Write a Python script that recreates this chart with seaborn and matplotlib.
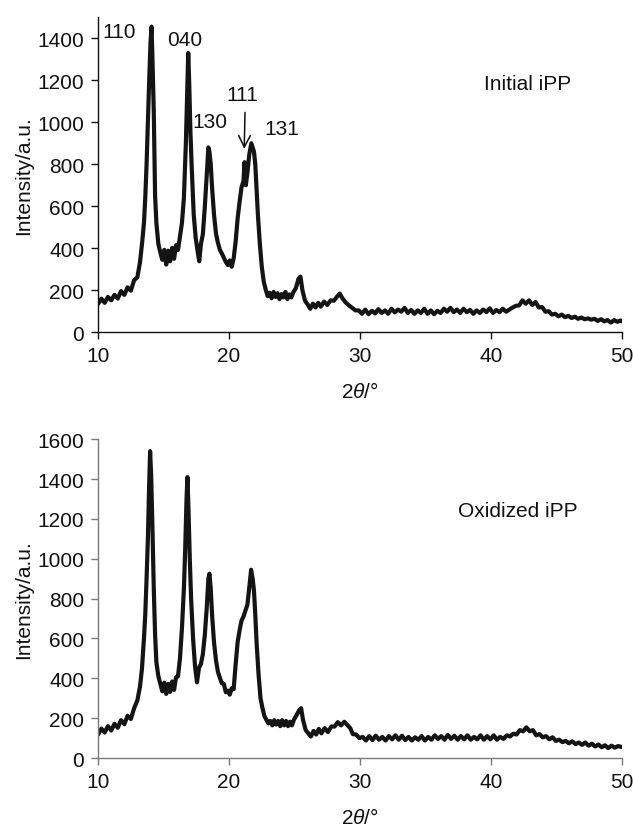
import matplotlib
matplotlib.use("Agg")
import matplotlib.pyplot as plt
import seaborn as sns
import pandas as pd

# ---------------- data ----------------
x_init = [10.0, 10.25, 10.5, 10.75, 11.0, 11.25, 11.5, 11.75, 12.0, 12.25, 12.5, 12.75, 13.0, 13.2, 13.35, 13.5,
          13.6, 13.7, 13.8, 13.9, 14.0, 14.08, 14.15, 14.25, 14.35, 14.45, 14.6, 14.75, 14.9, 15.05, 15.2, 15.35,
          15.5, 15.65, 15.8, 15.95, 16.1, 16.25, 16.4, 16.55, 16.7, 16.8, 16.88, 16.95, 17.05, 17.15, 17.3, 17.45,
          17.6, 17.72, 17.85, 18.0, 18.15, 18.3, 18.42, 18.5, 18.6, 18.7, 18.85, 19.0, 19.15, 19.3, 19.45, 19.6,
          19.75, 19.9, 20.05, 20.2, 20.35, 20.5, 20.65, 20.8, 20.95, 21.1, 21.18, 21.28, 21.4, 21.55, 21.7, 21.8,
          21.9, 22.0, 22.1, 22.2, 22.35, 22.5, 22.65, 22.8, 22.95, 23.1, 23.25, 23.4, 23.55, 23.7, 23.85, 24.0,
          24.15, 24.3, 24.45, 24.6, 24.75, 24.9, 25.1, 25.3, 25.45, 25.6, 25.8, 26.0, 26.2, 26.4, 26.6, 26.8,
          27.0, 27.25, 27.5, 27.75, 28.0, 28.25, 28.45, 28.65, 28.9, 29.15, 29.4, 29.65, 29.9, 30.15, 30.4, 30.65,
          30.9, 31.15, 31.4, 31.65, 31.9, 32.15, 32.4, 32.65, 32.9, 33.15, 33.4, 33.65, 33.9, 34.15, 34.4, 34.65,
          34.9, 35.15, 35.4, 35.65, 35.9, 36.15, 36.4, 36.65, 36.9, 37.15, 37.4, 37.65, 37.9, 38.15, 38.4, 38.65,
          38.9, 39.15, 39.4, 39.65, 39.9, 40.15, 40.4, 40.65, 40.9, 41.15, 41.4, 41.65, 41.9, 42.15, 42.4, 42.65,
          42.9, 43.15, 43.4, 43.65, 43.9, 44.15, 44.4, 44.65, 44.9, 45.15, 45.4, 45.65, 45.9, 46.15, 46.4, 46.65,
          46.9, 47.15, 47.4, 47.65, 47.9, 48.15, 48.4, 48.65, 48.9, 49.15, 49.4, 49.65, 49.9, 50.0]
y_init = [135, 160, 140, 168, 152, 178, 160, 196, 178, 214, 198, 248, 262, 335, 420, 520,
          640, 800, 1000, 1200, 1380, 1455, 1300, 1050, 650, 520, 420, 380, 345, 392, 322, 388,
          338, 402, 350, 415, 392, 455, 520, 640, 900, 1150, 1330, 1200, 950, 780, 560, 450,
          385, 338, 420, 468, 600, 760, 880, 860, 800, 690, 560, 470, 425, 392, 375, 355,
          335, 320, 342, 312, 352, 430, 540, 620, 690, 720, 810, 700, 760, 850, 900, 880,
          860, 800, 680, 560, 420, 310, 240, 202, 172, 188, 162, 192, 168, 186, 158, 182,
          166, 192, 158, 180, 166, 190, 210, 255, 265, 200, 150, 132, 112, 136, 118, 140,
          122, 146, 130, 152, 150, 170, 184, 162, 142, 128, 116, 104, 104, 88, 108, 86,
          102, 90, 110, 92, 104, 88, 112, 95, 108, 98, 116, 92, 106, 88, 104, 92,
          112, 88, 104, 86, 102, 92, 112, 98, 116, 96, 108, 92, 112, 96, 106, 88,
          104, 92, 108, 96, 114, 92, 106, 96, 112, 98, 108, 118, 126, 128, 152, 136,
          152, 130, 144, 118, 120, 98, 100, 84, 88, 76, 84, 72, 78, 68, 74, 64,
          70, 62, 66, 60, 64, 54, 62, 52, 58, 46, 58, 50, 56, 52]

x_oxid = [10.0, 10.25, 10.5, 10.75, 11.0, 11.25, 11.5, 11.75, 12.0, 12.25, 12.5, 12.75, 13.0, 13.2, 13.35, 13.5,
          13.6, 13.7, 13.8, 13.9, 13.97, 14.05, 14.15, 14.25, 14.35, 14.45, 14.6, 14.75, 14.9, 15.05, 15.2, 15.35,
          15.5, 15.65, 15.8, 15.95, 16.1, 16.25, 16.4, 16.55, 16.65, 16.75, 16.82, 16.9, 17.0, 17.1, 17.25, 17.4,
          17.55, 17.7, 17.85, 18.0, 18.15, 18.3, 18.42, 18.5, 18.6, 18.7, 18.85, 19.0, 19.15, 19.3, 19.45, 19.6,
          19.75, 19.9, 20.05, 20.2, 20.35, 20.5, 20.65, 20.8, 20.95, 21.1, 21.25, 21.4, 21.55, 21.68, 21.8, 21.9,
          22.0, 22.1, 22.25, 22.4, 22.55, 22.7, 22.85, 23.0, 23.15, 23.3, 23.45, 23.6, 23.75, 23.9, 24.05, 24.2,
          24.35, 24.5, 24.65, 24.8, 24.95, 25.15, 25.35, 25.5, 25.65, 25.85, 26.05, 26.25, 26.45, 26.65, 26.85, 27.05,
          27.3, 27.55, 27.8, 28.05, 28.3, 28.55, 28.8, 29.0, 29.25, 29.45, 29.7, 29.95, 30.2, 30.45, 30.7, 30.95,
          31.2, 31.45, 31.7, 31.95, 32.2, 32.45, 32.7, 32.95, 33.2, 33.45, 33.7, 33.95, 34.2, 34.45, 34.7, 34.95,
          35.2, 35.45, 35.7, 35.95, 36.2, 36.45, 36.7, 36.95, 37.2, 37.45, 37.7, 37.95, 38.2, 38.45, 38.7, 38.95,
          39.2, 39.45, 39.7, 39.95, 40.2, 40.45, 40.7, 40.95, 41.2, 41.45, 41.7, 41.95, 42.2, 42.45, 42.7, 42.95,
          43.2, 43.45, 43.7, 43.95, 44.2, 44.45, 44.7, 44.95, 45.2, 45.45, 45.7, 45.95, 46.2, 46.45, 46.7, 46.95,
          47.2, 47.45, 47.7, 47.95, 48.2, 48.45, 48.7, 48.95, 49.2, 49.45, 49.7, 50.0]
y_oxid = [118, 148, 128, 160, 138, 172, 152, 190, 170, 212, 196, 250, 290, 360, 450, 600,
          720, 900, 1100, 1380, 1540, 1420, 1150, 850, 620, 480, 410, 372, 335, 378, 322, 372,
          332, 384, 342, 405, 410, 500, 650, 850, 1050, 1300, 1410, 1250, 1000, 800, 600, 460,
          380, 452, 472, 522, 620, 760, 900, 925, 850, 720, 580, 490, 432, 402, 375, 372,
          330, 338, 318, 350, 345, 470, 580, 640, 690, 710, 740, 770, 860, 945, 900, 840,
          720, 580, 420, 300, 250, 210, 192, 174, 186, 164, 190, 168, 186, 160, 190, 164,
          186, 160, 182, 164, 192, 215, 240, 250, 190, 140, 124, 108, 136, 118, 146, 124,
          150, 130, 158, 158, 180, 164, 182, 168, 150, 120, 118, 100, 106, 88, 110, 90,
          112, 92, 106, 88, 110, 94, 114, 92, 112, 90, 106, 88, 104, 92, 110, 88,
          106, 92, 114, 96, 110, 92, 116, 96, 112, 92, 110, 94, 114, 92, 106, 94,
          114, 92, 110, 94, 114, 92, 106, 96, 114, 108, 122, 118, 140, 134, 154, 134,
          140, 114, 120, 104, 110, 94, 104, 86, 92, 80, 86, 74, 84, 70, 78, 66,
          78, 62, 72, 58, 68, 54, 64, 50, 62, 52, 60, 55]

x_ticks = [10, 20, 30, 40, 50]
y_ticks_init = [0, 200, 400, 600, 800, 1000, 1200, 1400]
y_ticks_oxid = [0, 200, 400, 600, 800, 1000, 1200, 1400, 1600]
peak_labels = ["110", "040", "130", "111", "131"]
peak_label_x = [11.6, 16.6, 18.5, 21.0, 24.0]
peak_label_y = [1433, 1395, 1002, 1133, 971]
sample_names = ["Initial iPP", "Oxidized iPP"]

# ---------------- style ----------------
sns.set_theme(style="ticks")
plt.rcParams["font.family"] = ["Liberation Sans", "DejaVu Sans"]
plt.rcParams["mathtext.fontset"] = "custom"
plt.rcParams["mathtext.rm"] = "Liberation Sans"
plt.rcParams["mathtext.it"] = "Liberation Sans:italic"
FS = 15
line_color = "#141414"

fig = plt.figure(figsize=(6.33, 8.29), dpi=100)
ax1 = fig.add_axes([0.155, 0.598, 0.8276, 0.38])
ax2 = fig.add_axes([0.155, 0.0844, 0.8276, 0.3846])

df1 = pd.DataFrame({"x": x_init, "y": y_init})
df2 = pd.DataFrame({"x": x_oxid, "y": y_oxid})
sns.lineplot(data=df1, x="x", y="y", ax=ax1, color=line_color, linewidth=3.0,
             estimator=None, sort=False)
sns.lineplot(data=df2, x="x", y="y", ax=ax2, color=line_color, linewidth=3.0,
             estimator=None, sort=False)

for ax, yt, ymax, spine_col in [(ax1, y_ticks_init, 1500, "#111111"),
                                (ax2, y_ticks_oxid, 1600, "#7a7a7a")]:
    ax.set_xlim(10, 50)
    ax.set_ylim(0, ymax)
    ax.set_xticks(x_ticks)
    ax.set_yticks(yt)
    ax.tick_params(axis="both", labelsize=FS, length=5, width=1.0, pad=5,
                   color=spine_col, labelcolor="#111111", direction="out")
    for s in ["top", "right"]:
        ax.spines[s].set_visible(False)
    for s in ["left", "bottom"]:
        ax.spines[s].set_color(spine_col)
        ax.spines[s].set_linewidth(1.0)
    ax.set_xlabel(r"2$\theta$/°", fontsize=FS, color="#111111")
    ax.set_ylabel("Intensity/a.u.", fontsize=FS, color="#111111")
    ax.yaxis.set_label_coords(-0.125, 0.5)

ax1.xaxis.set_label_coords(0.5, -0.156)
ax2.xaxis.set_label_coords(0.5, -0.154)

# peak annotations
for lab, lx, ly in zip(peak_labels, peak_label_x, peak_label_y):
    ax1.text(lx, ly, lab, fontsize=FS, ha="center", va="center", color="#111111")
ax1.annotate("", xy=(21.15, 860), xytext=(21.22, 1060),
             arrowprops=dict(arrowstyle="->,head_length=0.7,head_width=0.35",
                             lw=1.1, color="#111111"))

ax1.text(42.8, 1186, sample_names[0], fontsize=FS, ha="center", va="center", color="#111111")
ax2.text(42.06, 1240, sample_names[1], fontsize=FS, ha="center", va="center", color="#111111")

fig.savefig("out.png", dpi=100)
